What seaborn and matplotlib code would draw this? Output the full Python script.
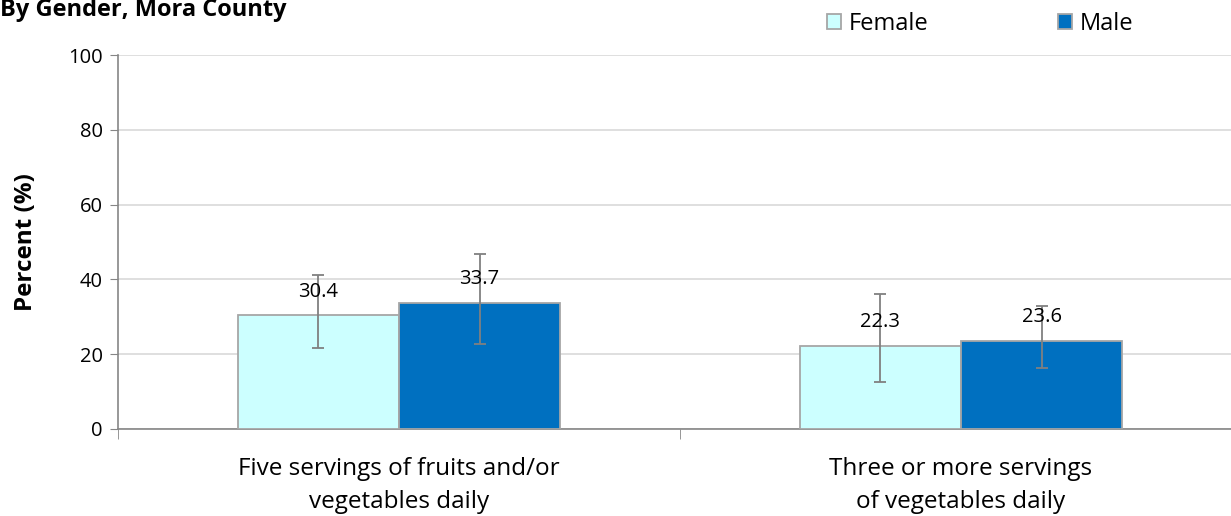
import pandas as pd
import matplotlib
matplotlib.use("Agg")
import matplotlib.pyplot as plt
import seaborn as sns

# chart values
categories = ["Five servings of fruits and/or\nvegetables daily",
              "Three or more servings\nof vegetables daily"]
genders = ["Female", "Male"]
female_pct = [30.4, 22.3]
male_pct = [33.7, 23.6]
female_lo = [21.6, 12.7]
female_hi = [41.1, 36.1]
male_lo = [22.6, 16.4]
male_hi = [46.8, 32.8]

df = pd.DataFrame({
    "Category": categories * 2,
    "Gender": ["Female"] * 2 + ["Male"] * 2,
    "Percent": female_pct + male_pct,
    "Lo": female_lo + male_lo,
    "Hi": female_hi + male_hi,
})

sns.set_style("white")
plt.rcParams["font.family"] = ["Open Sans", "DejaVu Sans"]
plt.rcParams["text.color"] = "black"
plt.rcParams["xtick.color"] = "black"
plt.rcParams["ytick.color"] = "black"
plt.rcParams["axes.labelcolor"] = "black"

fig = plt.figure(figsize=(12.31, 5.16), dpi=100)
ax = fig.add_axes([118 / 1231, 1 - 429 / 516, 1124 / 1231, 374 / 516])

palette = {"Female": "#CCFFFF", "Male": "#0070C0"}
sns.barplot(data=df, x="Category", y="Percent", hue="Gender", hue_order=genders,
            order=categories, palette=palette, saturation=1, width=0.573, gap=0,
            edgecolor="#A6A6A6", linewidth=1.3, errorbar=None, ax=ax, zorder=3)

# error bars and value labels from the drawn bars
for cont, g in zip(ax.containers, genders):
    sub = df[df["Gender"] == g].set_index("Category").loc[categories]
    for bar, (_, row) in zip(cont, sub.iterrows()):
        xc = bar.get_x() + bar.get_width() / 2
        v = row["Percent"]
        ax.errorbar(xc, v, yerr=[[v - row["Lo"]], [row["Hi"] - v]], fmt="none",
                    ecolor="#808080", elinewidth=1.3, capsize=4, capthick=1.3, zorder=4)
        ax.annotate(f"{v:.1f}", (xc, v), xytext=(0, 17), textcoords="offset points",
                    ha="center", va="center", fontsize=14.5, zorder=5)

ax.set_ylim(0, 100)
ax.set_xlim(-0.5, 1.5)
ax.set_yticks(range(0, 101, 20))
ax.yaxis.grid(True, color="#D9D9D9", linewidth=1.2, zorder=0)
ax.set_axisbelow(True)
for s in ["top", "right"]:
    ax.spines[s].set_visible(False)
for s in ["left", "bottom"]:
    ax.spines[s].set_color("#868686")
    ax.spines[s].set_linewidth(1.2)

ax.tick_params(axis="y", which="major", left=True, length=6, color="#868686",
               labelsize=14.5, pad=5)
ax.set_xticks([0, 1])
ax.set_xticklabels(categories, fontsize=17.5, linespacing=1.5)
ax.tick_params(axis="x", which="major", length=0, pad=20)
ax.set_xticks([-0.5, 0.5, 1.5], minor=True)
ax.tick_params(axis="x", which="minor", bottom=True, length=7, color="#868686")

ax.set_xlabel("")
ax.set_ylabel("Percent (%)", fontsize=17.5, fontweight="bold", labelpad=22)

ax.legend_.remove()
handles = [plt.Rectangle((0, 0), 1, 1, facecolor=palette[g], edgecolor="#A6A6A6", linewidth=1.3)
           for g in genders]
fig.legend(handles, genders, loc="center left", bbox_to_anchor=(806 / 1231, 1 - 24 / 516),
           ncol=2, frameon=False, fontsize=17, handlelength=0.6, handleheight=0.6,
           handletextpad=0.3, columnspacing=5.5)

fig.text(0.0, 1 - 10 / 516, "By Gender, Mora County", fontsize=17, fontweight="bold",
         ha="left", va="center")

fig.savefig("out.png", dpi=100)
